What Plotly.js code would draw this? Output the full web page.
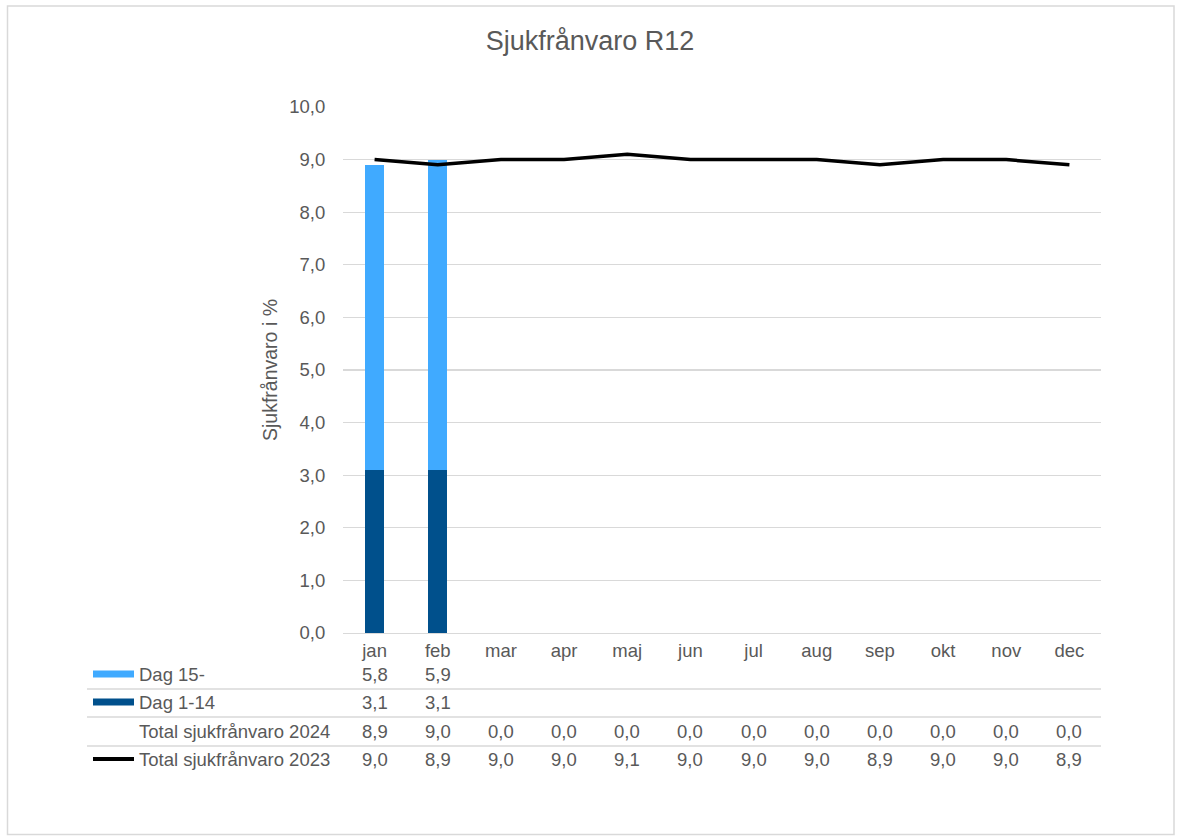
<!DOCTYPE html>
<html>
<head>
<meta charset="utf-8">
<script src="https://cdn.plot.ly/plotly-3.0.1.min.js"></script>
<style>html,body{margin:0;padding:0;background:#fff;}#chart{width:1180px;height:836px;}</style>
</head>
<body>
<div id="chart"></div>
<script>
const months = ['jan','feb','mar','apr','maj','jun','jul','aug','sep','okt','nov','dec'];
const dag15 = [5.8, 5.9, null, null, null, null, null, null, null, null, null, null];
const dag114 = [3.1, 3.1, null, null, null, null, null, null, null, null, null, null];
const total2024 = [8.9, 9.0, 0.0, 0.0, 0.0, 0.0, 0.0, 0.0, 0.0, 0.0, 0.0, 0.0];
const total2023 = [9.0, 8.9, 9.0, 9.0, 9.1, 9.0, 9.0, 9.0, 8.9, 9.0, 9.0, 8.9];
const yTicks = [0,1,2,3,4,5,6,7,8,9,10];

const colLight = '#40AAFF';
const colDark = '#00508C';
const txt = '#595959';
const font = 'Liberation Sans, Arial, sans-serif';
const fs = 18.5;

function fmt(v){ return (v===null||v===undefined) ? '' : v.toFixed(1).replace('.', ','); }

const traces = [
  {type:'bar', name:'Dag 1-14', x:months, y:dag114, marker:{color:colDark}, width:0.3, hoverinfo:'y'},
  {type:'bar', name:'Dag 15-', x:months, y:dag15, marker:{color:colLight}, width:0.3, hoverinfo:'y'},
  {type:'scatter', mode:'lines', name:'Total sjukfrånvaro 2023', x:months, y:total2023, line:{color:'#000', width:3.5}}
];

// plot area in px: x 343..1101, y 107..633
const L=343, R=1101, T=107, B=633;
const pw = R-L, ph = B-T;
const px2x = p => (p-L)/pw;
const py2y = p => (B-p)/ph;

const rows = [
  {label:'Dag 15-', vals:dag15, key:{color:colLight, h:7}, py:674},
  {label:'Dag 1-14', vals:dag114, key:{color:colDark, h:7}, py:702},
  {label:'Total sjukfrånvaro 2024', vals:total2024, key:null, py:731},
  {label:'Total sjukfrånvaro 2023', vals:total2023, key:{color:'#000', h:4}, py:759}
];

const annotations = [];
const shapes = [];

rows.forEach(r => {
  annotations.push({xref:'paper', yref:'paper', x:px2x(137), y:py2y(r.py), xanchor:'left', yanchor:'middle',
    text:r.label, showarrow:false, font:{family:font, size:fs, color:txt}});
  r.vals.forEach((v,i) => {
    const s = fmt(v);
    if (s) annotations.push({xref:'x', yref:'paper', x:months[i], y:py2y(r.py), xanchor:'center', yanchor:'middle',
      text:s, showarrow:false, font:{family:font, size:fs, color:txt}});
  });
  if (r.key) {
    shapes.push({type:'rect', xref:'paper', yref:'paper', x0:px2x(93), x1:px2x(134),
      y0:py2y(r.py + r.key.h/2), y1:py2y(r.py - r.key.h/2), fillcolor:r.key.color, line:{width:0}, layer:'above'});
  }
});

// table row lines
[689, 717, 746].forEach(py => {
  shapes.push({type:'line', xref:'paper', yref:'paper', x0:px2x(87), x1:1, y0:py2y(py), y1:py2y(py),
    line:{color:'#d9d9d9', width:1.3}});
});

// outer chart border
shapes.push({type:'rect', xref:'paper', yref:'paper', x0:px2x(7.5), x1:px2x(1174), y0:py2y(834.5), y1:py2y(6),
  line:{color:'#d9d9d9', width:1.5}, fillcolor:'rgba(0,0,0,0)'});

const layout = {
  width:1180, height:836,
  margin:{l:L, r:1180-R, t:T, b:836-B, pad:0},
  paper_bgcolor:'#fff', plot_bgcolor:'#fff',
  barmode:'stack',
  showlegend:false,
  separators:', ',
  title:{text:'Sjukfrånvaro R12', x:0.5, xref:'container', xanchor:'center', y:1-(41/836), yanchor:'middle',
    font:{family:font, size:27, color:txt}},
  xaxis:{type:'category', categoryarray:months, range:[-0.5, 11.5], showgrid:false, zeroline:false,
    showline:true, linecolor:'#d9d9d9', linewidth:1.3, ticks:'', tickfont:{family:font, size:fs, color:txt},
    ticklabelstandoff:0, fixedrange:true},
  yaxis:{range:[0,10], tickvals:yTicks, tickformat:'.1f', showgrid:true, gridcolor:'#d9d9d9', gridwidth:1.3,
    zeroline:false, showline:false, ticks:'outside', ticklen:13, tickcolor:'rgba(0,0,0,0)',
    tickfont:{family:font, size:fs, color:txt},
    title:{text:'Sjukfrånvaro i %', font:{family:font, size:19.5, color:txt}, standoff:6}, fixedrange:true},
  annotations:annotations,
  shapes:shapes,
  font:{family:font, color:txt}
};

Plotly.newPlot('chart', traces, layout, {displayModeBar:false, staticPlot:true});
</script>
</body>
</html>
